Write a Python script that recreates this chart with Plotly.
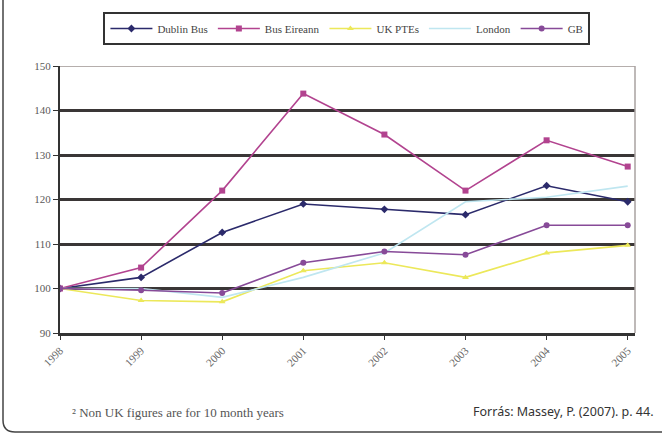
import plotly.graph_objects as go

years = [1998, 1999, 2000, 2001, 2002, 2003, 2004, 2005]
year_labels = ["1998", "1999", "2000", "2001", "2002", "2003", "2004", "2005"]
dublin_bus = [100, 102.5, 112.6, 119.0, 117.8, 116.6, 123.1, 119.5]
bus_eireann = [100, 104.7, 122.0, 143.8, 134.6, 122.0, 133.3, 127.4]
uk_ptes = [100, 97.3, 97.0, 104.0, 105.8, 102.5, 108.0, 109.7]
london = [100, 100.0, 98.0, 102.5, 108.0, 119.5, 120.5, 123.0]
gb = [100, 99.6, 99.0, 105.8, 108.3, 107.6, 114.2, 114.2]
y_ticks = [90, 100, 110, 120, 130, 140, 150]

W, H = 662, 435
L, R, T, B = 60, 27, 66, 102
PW, PH = W - L - R, H - T - B


def px(x):
    return (x - L) / PW


def py(y):
    return (H - B - y) / PH


serif = "Liberation Serif"
fig = go.Figure()

series = [
    ("Dublin Bus", dublin_bus, "#2b2a6b", "diamond", 6),
    ("Bus Eireann", bus_eireann, "#b2438f", "square", 6),
    ("UK PTEs", uk_ptes, "#ece85a", "triangle-up", 6),
    ("London", london, "#bfe6f0", "x", 0),
    ("GB", gb, "#874a98", "circle", 6),
]
for name, vals, col, sym, size in series:
    fig.add_trace(go.Scatter(
        x=years, y=vals, name=name, mode="lines+markers" if size else "lines",
        line=dict(color=col, width=1.6),
        marker=dict(symbol=sym, size=size, color=col),
    ))

shapes = [
    dict(type="line", xref="paper", yref="y", x0=0, x1=1, y0=150, y1=150,
         line=dict(color="#b5aeac", width=2), layer="above"),
    dict(type="line", xref="paper", yref="paper", x0=1, x1=1, y0=0, y1=1,
         line=dict(color="#a9a2a0", width=1.5), layer="above"),
    dict(type="path", xref="paper", yref="paper",
         path=f"M {px(3)} {py(-5)} L {px(3)} {py(420)} Q {px(3)} {py(432)} {px(15)} {py(432)} L {px(665)} {py(432)}",
         line=dict(color="#444444", width=1.5)),
]

fig.update_layout(
    width=W, height=H,
    margin=dict(l=L, r=R, t=T, b=B),
    paper_bgcolor="white", plot_bgcolor="white",
    font=dict(family=serif, size=11, color="#555555"),
    showlegend=True,
    legend=dict(
        orientation="h", x=0.499, xanchor="center", y=py(12), yanchor="top",
        bordercolor="#333333", borderwidth=2, font=dict(family=serif, size=11, color="#444444"),
        itemwidth=42, tracegroupgap=0,
    ),
    xaxis=dict(
        range=[1998, 2005.09], tickvals=years, ticktext=year_labels,
        tickangle=-45, showgrid=False, zeroline=False,
        showline=True, linecolor="#333333", linewidth=3,
        ticks="outside", ticklen=4, tickcolor="#333333",
        tickfont=dict(family=serif, size=11, color="#666666"),
    ),
    yaxis=dict(
        range=[90, 150], tickvals=y_ticks, showgrid=True,
        gridcolor="#3a3636", gridwidth=3, zeroline=False,
        showline=True, linecolor="#333333", linewidth=2,
        ticks="outside", ticklen=5, tickcolor="#333333",
        tickfont=dict(family=serif, size=11, color="#5a5a5a"),
    ),
    shapes=shapes,
    annotations=[
        dict(text="² Non UK figures are for 10 month years", xref="paper", yref="paper",
             x=px(70), y=py(412), xanchor="left", yanchor="middle", showarrow=False,
             font=dict(family=serif, size=13, color="#555555")),
        dict(text="Forrás: Massey, P. (2007). p. 44.", xref="paper", yref="paper",
             x=px(656), y=py(411), xanchor="right", yanchor="middle", showarrow=False,
             font=dict(family="Noto Sans", size=12.5, color="#333333")),
    ],
)

fig.write_html("out.html")
